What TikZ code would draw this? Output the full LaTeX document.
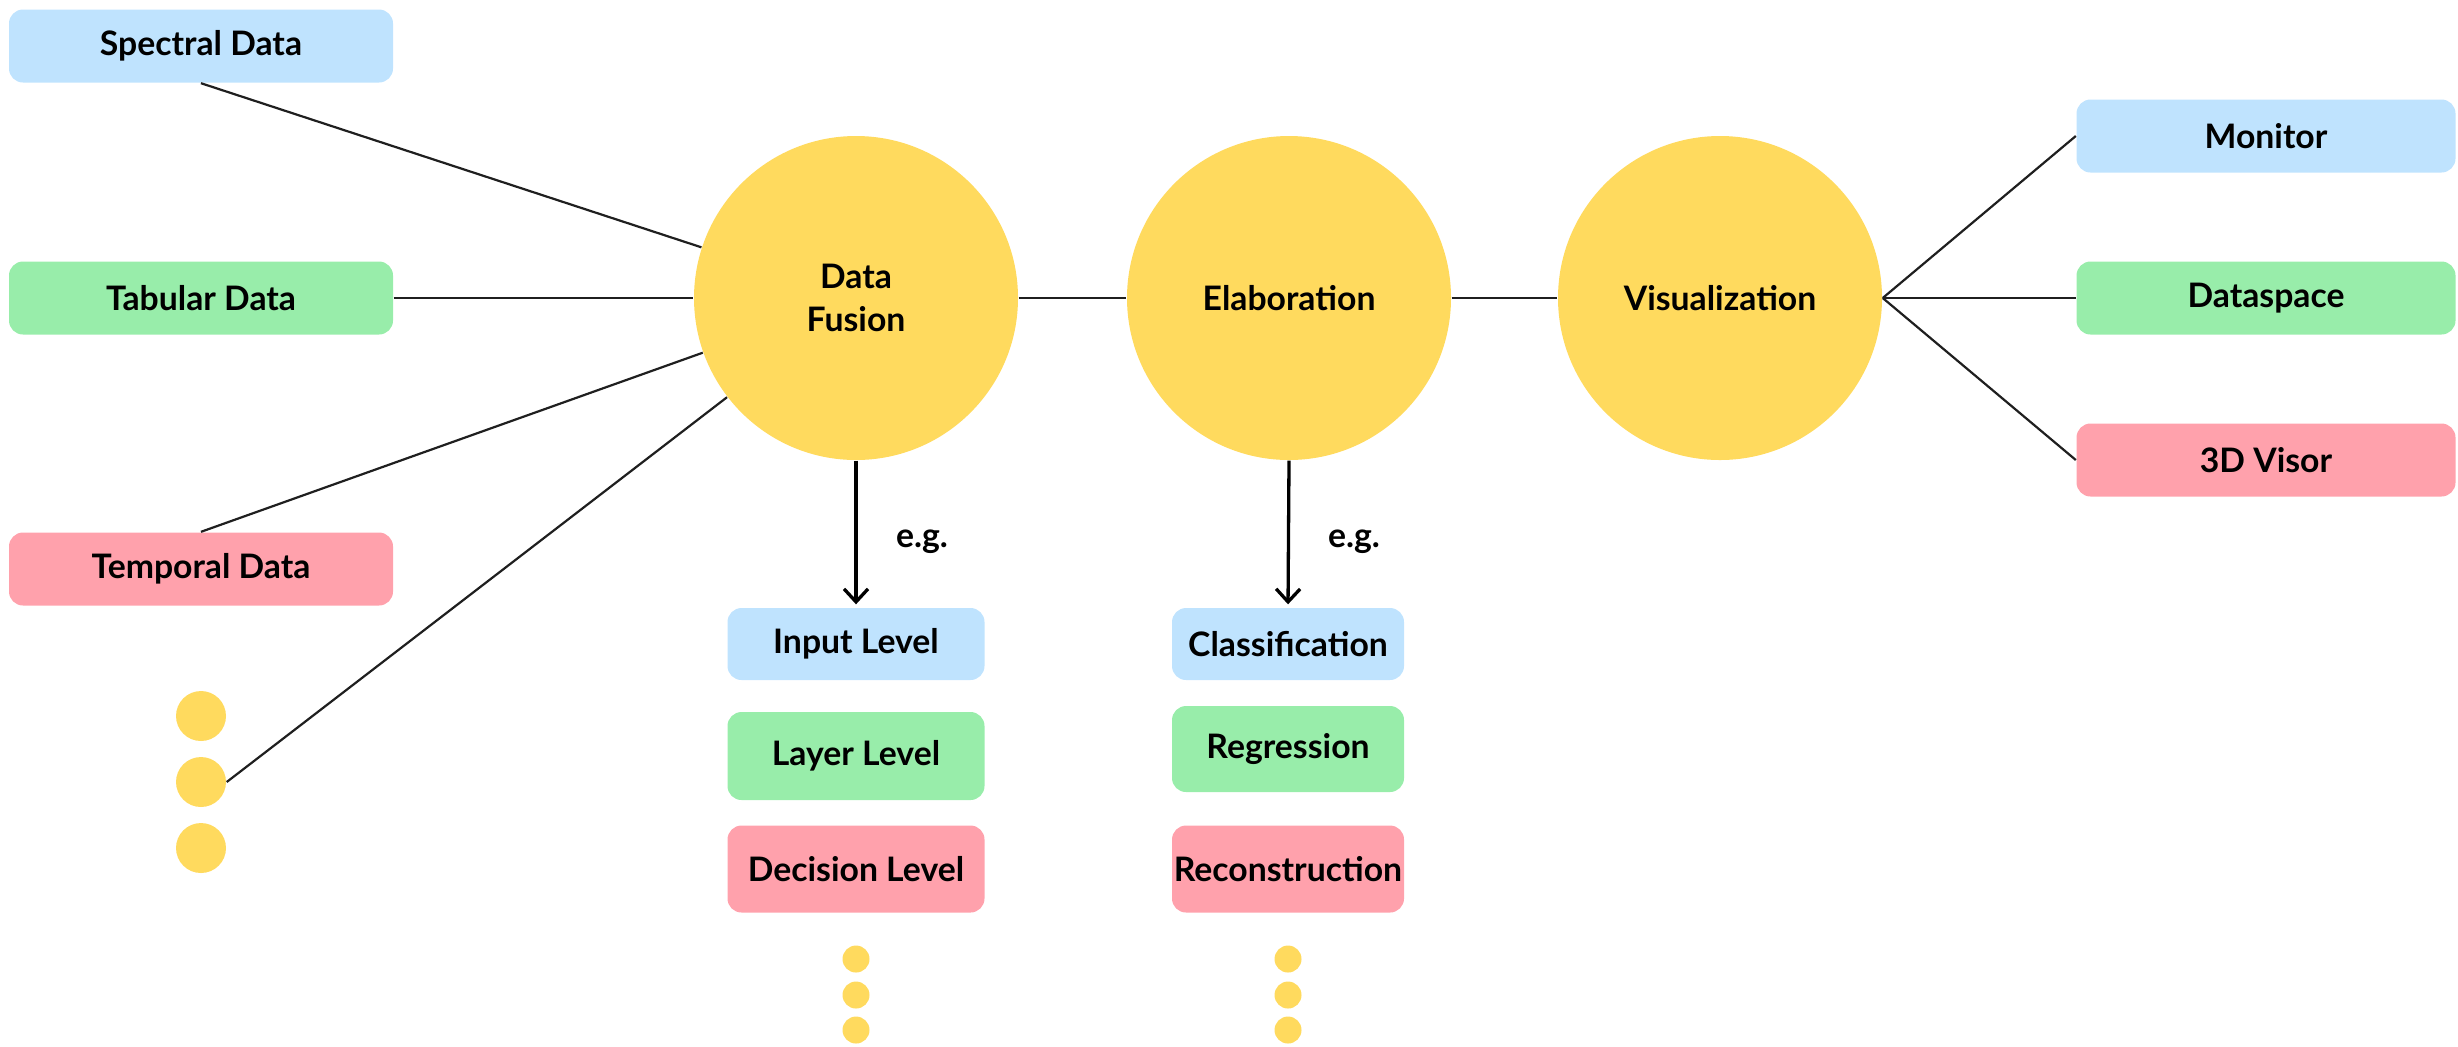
\documentclass[tikz,border=0pt]{standalone}
\usepackage{fontspec}
\setmainfont{Lato}
\usetikzlibrary{arrows.meta}
\definecolor{boxBlue}{RGB}{191,227,254}
\definecolor{boxGreen}{RGB}{152,237,170}
\definecolor{boxPink}{RGB}{255,161,172}
\definecolor{stageYellow}{RGB}{255,218,94}
\tikzstyle{canvas} = [x = 0.1mm, y = -0.1mm]
\tikzstyle{labelFont} = [font = \fontsize{9.6}{12.2}\selectfont\bfseries]
\tikzstyle{boxStyle} = [labelFont, rounded corners = 1.4mm, inner sep = 0pt, text = black]
\tikzstyle{stageStyle} = [labelFont, circle, fill = stageYellow, minimum size = 32.4mm, inner sep = 0pt, align = center]
\tikzstyle{bigDot} = [circle, fill = stageYellow, minimum size = 5mm, inner sep = 0pt]
\tikzstyle{smallDot} = [circle, fill = stageYellow, minimum size = 2.7mm, inner sep = 0pt]
\tikzstyle{linkLine} = [color = black!88, line width = 0.22mm]
\tikzstyle{egArrow} = [color = black, line width = 0.33mm, shorten > = 0.3mm, -{Straight Barb[length = 1.3mm, width = 2.4mm]}]
\newcommand{\dataBox}[7]{\node [boxStyle, fill = #4, minimum width = #5mm, minimum height = #6mm] (#1) at (#2, #3) {#7};}
\newcommand{\smallDots}[2]{
  \foreach \row/\ypos in {A/959, B/995, C/1030} {
    \node [smallDot] (#1\row) at (#2, \ypos) {};
  }
}

\begin{document}
\begin{tikzpicture}[canvas]
  \useasboundingbox (0,0) rectangle (2458,1046);
  % stages
  \node [stageStyle] (fusion) at (856,298) {Data\\Fusion};
  \node [stageStyle] (elab) at (1289,298) {Elaboration};
  \node [stageStyle] (visual) at (1720,298) {Visualization};

  % sources
  \dataBox{spectral}{201}{46}{boxBlue}{38.4}{7.3}{Spectral Data}
  \dataBox{tabular}{201}{298}{boxGreen}{38.4}{7.3}{Tabular Data}
  \dataBox{temporal}{201}{569}{boxPink}{38.4}{7.3}{Temporal Data}
  \foreach \name/\ypos in {dotA/716, dotB/782, dotC/848} {
    \node [bigDot] (\name) at (201, \ypos) {};
  }

  % outputs
  \dataBox{monitor}{2266}{136}{boxBlue}{37.9}{7.3}{Monitor}
  \dataBox{dataspace}{2266}{298}{boxGreen}{37.9}{7.3}{Dataspace}
  \dataBox{visor}{2266}{460}{boxPink}{37.9}{7.3}{3D Visor}

  % examples
  \dataBox{inputLevel}{856}{644}{boxBlue}{25.7}{7.2}{Input Level}
  \dataBox{layerLevel}{856}{756}{boxGreen}{25.7}{8.8}{Layer Level}
  \dataBox{decisionLevel}{856}{869}{boxPink}{25.7}{8.7}{Decision Level}
  \smallDots{fusionDot}{856}
  \dataBox{classification}{1288}{644}{boxBlue}{23.2}{7.2}{Classification}
  \dataBox{regression}{1288}{749}{boxGreen}{23.2}{8.6}{Regression}
  \dataBox{reconstruction}{1288}{869}{boxPink}{23.2}{8.7}{Reconstruction}
  \smallDots{elabDot}{1288}
  \node [labelFont] (fusionEg) at (922,542) {e.g.};
  \node [labelFont] (elabEg) at (1354,542) {e.g.};

  % links
  \draw [linkLine] (spectral.south) -- (fusion);
  \draw [linkLine] (tabular) -- (fusion);
  \draw [linkLine] (temporal.north) -- (fusion);
  \draw [linkLine] (dotB.east) -- (fusion);
  \draw [linkLine] (fusion) -- (elab);
  \draw [linkLine] (elab) -- (visual);
  \draw [linkLine] (visual.east) -- (monitor.west);
  \draw [linkLine] (visual.east) -- (dataspace.west);
  \draw [linkLine] (visual.east) -- (visor.west);
  \draw [egArrow] (fusion.south) -- (inputLevel.north);
  \draw [egArrow] (elab.south) -- (classification.north);
\end{tikzpicture}
\end{document}
